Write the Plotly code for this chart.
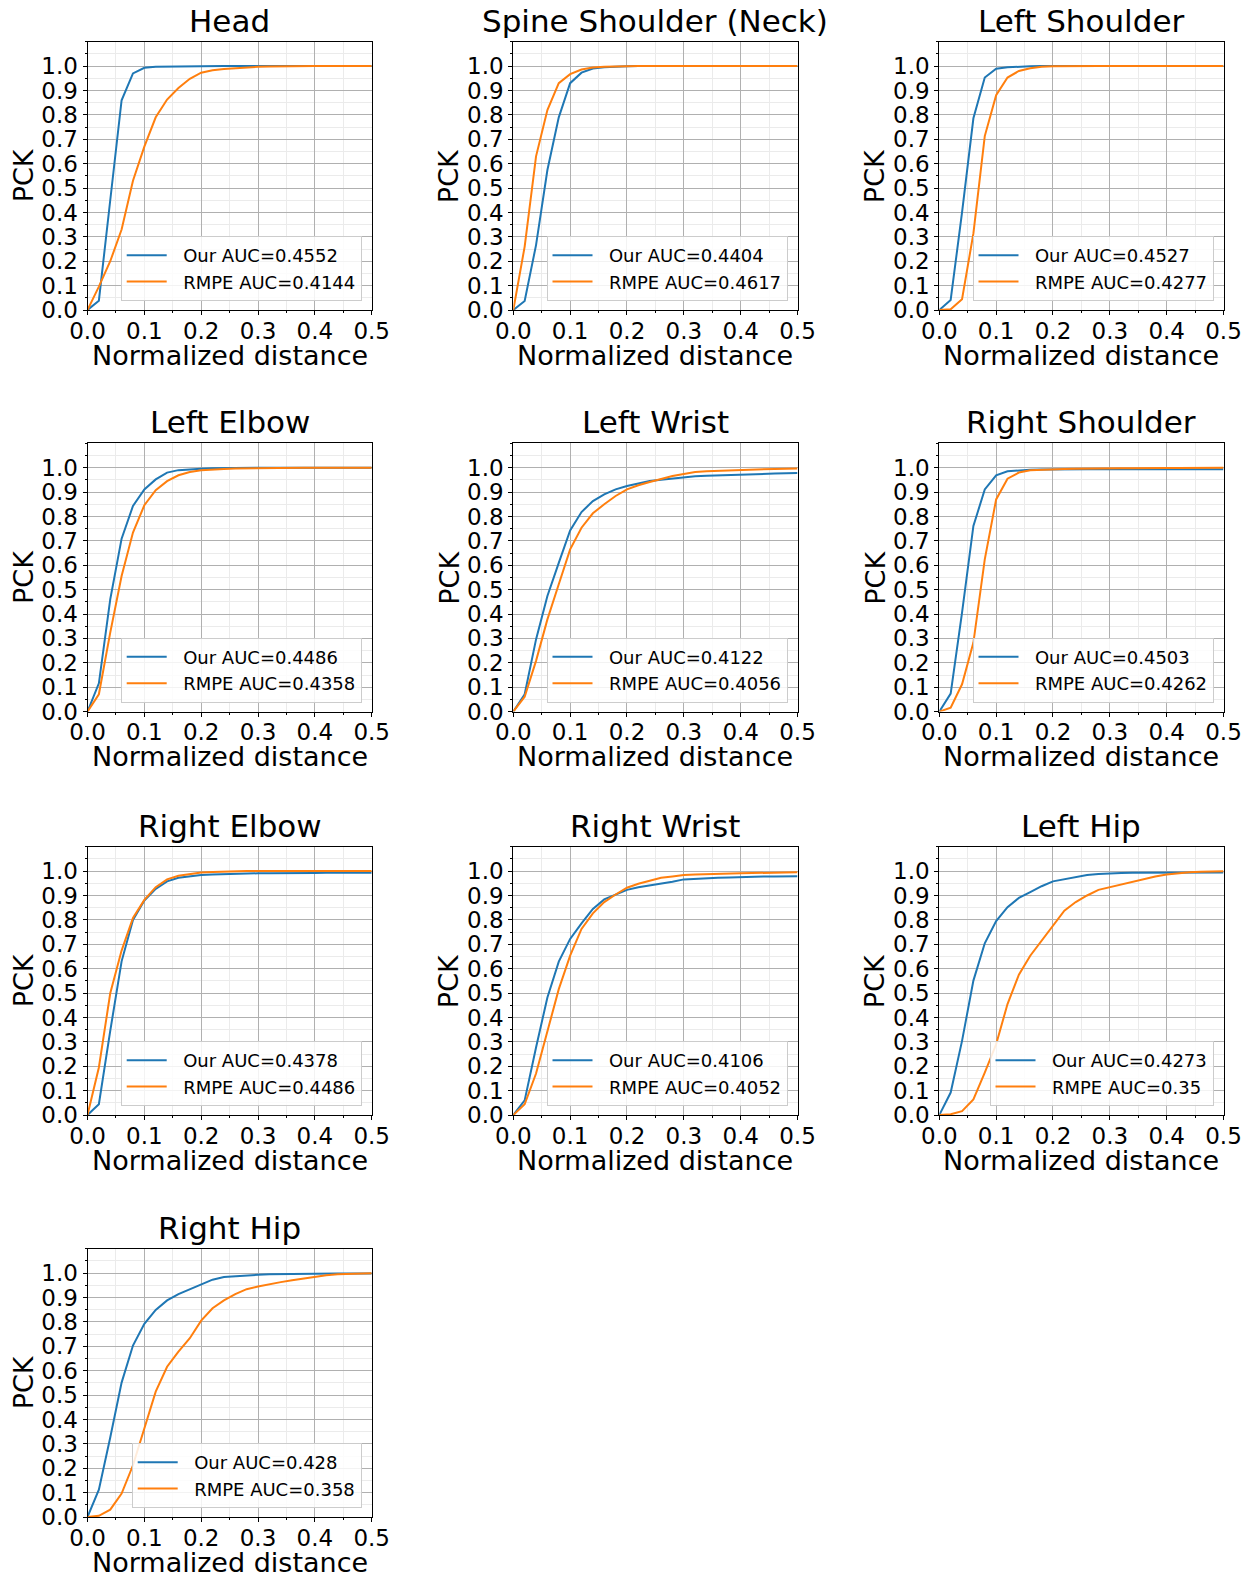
import plotly.graph_objects as go

# ---------------- data ----------------
panel_titles = ["Head", "Spine Shoulder (Neck)", "Left Shoulder", "Left Elbow", "Left Wrist",
                "Right Shoulder", "Right Elbow", "Right Wrist", "Left Hip", "Right Hip"]

distance = [0.0, 0.02, 0.04, 0.06, 0.08, 0.10, 0.12, 0.14, 0.16, 0.18, 0.20, 0.22, 0.24,
            0.26, 0.28, 0.30, 0.32, 0.34, 0.36, 0.38, 0.40, 0.42, 0.44, 0.46, 0.48, 0.50]

our_auc = ["0.4552", "0.4404", "0.4527", "0.4486", "0.4122", "0.4503", "0.4378", "0.4106", "0.4273", "0.428"]
rmpe_auc = ["0.4144", "0.4617", "0.4277", "0.4358", "0.4056", "0.4262", "0.4486", "0.4052", "0.35", "0.358"]

our_head = [0, 0.038, 0.45, 0.86, 0.97, 0.993, 0.997, 0.998, 0.999, 0.999,
            1, 1, 1, 1, 1, 1, 1, 1, 1, 1, 1, 1, 1, 1, 1, 1]
rmpe_head = [0, 0.096, 0.2, 0.33, 0.53, 0.67, 0.79, 0.863, 0.91, 0.948, 0.973, 0.983, 0.988,
             0.992, 0.995, 0.997, 0.998, 0.999, 1, 1, 1, 1, 1, 1, 1, 1]

our_neck = [0, 0.037, 0.266, 0.574, 0.79, 0.93, 0.973, 0.99, 0.995, 0.998, 0.999,
            1, 1, 1, 1, 1, 1, 1, 1, 1, 1, 1, 1, 1, 1, 1]
rmpe_neck = [0, 0.26, 0.63, 0.82, 0.93, 0.967, 0.986, 0.994, 0.997, 0.999,
             1, 1, 1, 1, 1, 1, 1, 1, 1, 1, 1, 1, 1, 1, 1, 1]

our_lshoulder = [0, 0.041, 0.40, 0.786, 0.953, 0.989, 0.995, 0.998, 0.999,
                 1, 1, 1, 1, 1, 1, 1, 1, 1, 1, 1, 1, 1, 1, 1, 1, 1]
rmpe_lshoulder = [0, 0.003, 0.044, 0.314, 0.713, 0.881, 0.953, 0.98, 0.991, 0.997, 0.999,
                  1, 1, 1, 1, 1, 1, 1, 1, 1, 1, 1, 1, 1, 1, 1]

our_lelbow = [0, 0.116, 0.46, 0.709, 0.843, 0.911, 0.952, 0.98, 0.99, 0.994, 0.996, 0.998, 0.999,
              1, 1, 1, 1, 1, 1, 1, 1, 1, 1, 1, 1, 1]
rmpe_lelbow = [0, 0.071, 0.324, 0.556, 0.734, 0.846, 0.908, 0.945, 0.969, 0.982, 0.989, 0.993,
               0.995, 0.997, 0.998, 0.999, 1, 1, 1, 1, 1, 1, 1, 1, 1, 1]

our_lwrist = [0, 0.071, 0.296, 0.474, 0.61, 0.743, 0.818, 0.863, 0.891, 0.911, 0.925, 0.936, 0.945,
              0.951, 0.956, 0.962, 0.965, 0.967, 0.969, 0.971, 0.973, 0.974, 0.975, 0.976, 0.977, 0.978]
rmpe_lwrist = [0, 0.061, 0.208, 0.378, 0.522, 0.665, 0.754, 0.813, 0.85, 0.884, 0.911, 0.928, 0.941,
               0.955, 0.966, 0.974, 0.982, 0.985, 0.987, 0.989, 0.991, 0.993, 0.994, 0.995, 0.996, 0.997]

our_rshoulder = [0, 0.074, 0.406, 0.761, 0.911, 0.969, 0.985, 0.99, 0.992, 0.993, 0.994, 0.994, 0.994,
                 0.994, 0.994, 0.994, 0.994, 0.994, 0.994, 0.994, 0.994, 0.994, 0.994, 0.994, 0.994, 0.994]
rmpe_rshoulder = [0, 0.016, 0.112, 0.283, 0.624, 0.87, 0.955, 0.98, 0.989, 0.992, 0.994, 0.995, 0.996,
                  0.997, 0.997, 0.998, 0.998, 0.998, 0.999, 0.999, 0.999, 0.999, 1, 1, 1, 1]

our_relbow = [0, 0.044, 0.345, 0.63, 0.8, 0.879, 0.927, 0.958, 0.973, 0.98, 0.984, 0.986, 0.988,
              0.989, 0.99, 0.991, 0.991, 0.992, 0.992, 0.992, 0.992, 0.993, 0.993, 0.993, 0.993, 0.993]
rmpe_relbow = [0, 0.195, 0.499, 0.674, 0.808, 0.882, 0.934, 0.966, 0.981, 0.989, 0.994, 0.996, 0.998,
               0.999, 1, 1, 1, 1, 1, 1, 1, 1, 1, 1, 1, 1]

our_rwrist = [0, 0.06, 0.277, 0.482, 0.629, 0.722, 0.786, 0.845, 0.884, 0.904, 0.923, 0.934, 0.941,
              0.948, 0.956, 0.966, 0.969, 0.971, 0.973, 0.974, 0.976, 0.977, 0.978, 0.978, 0.979, 0.979]
rmpe_rwrist = [0, 0.044, 0.17, 0.345, 0.516, 0.653, 0.763, 0.827, 0.873, 0.904, 0.932, 0.948, 0.962,
               0.973, 0.978, 0.984, 0.986, 0.988, 0.989, 0.99, 0.991, 0.992, 0.993, 0.994, 0.995, 0.995]

our_lhip = [0, 0.092, 0.304, 0.551, 0.704, 0.795, 0.852, 0.89, 0.914, 0.938, 0.958, 0.967, 0.978,
            0.984, 0.988, 0.991, 0.992, 0.993, 0.993, 0.993, 0.994, 0.994, 0.994, 0.994, 0.994, 0.994]
rmpe_lhip = [0, 0.003, 0.016, 0.064, 0.174, 0.29, 0.455, 0.575, 0.653, 0.715, 0.781, 0.838, 0.873,
             0.9, 0.923, 0.934, 0.944, 0.958, 0.967, 0.978, 0.986, 0.991, 0.995, 0.997, 0.998, 0.999]

our_rhip = [0, 0.112, 0.326, 0.551, 0.703, 0.792, 0.849, 0.888, 0.914, 0.934, 0.956, 0.973, 0.984,
            0.988, 0.991, 0.993, 0.995, 0.996, 0.996, 0.997, 0.997, 0.997, 0.998, 0.998, 0.998, 0.998]
rmpe_rhip = [0, 0.005, 0.03, 0.096, 0.212, 0.363, 0.514, 0.616, 0.678, 0.733, 0.805, 0.856, 0.888,
             0.914, 0.934, 0.945, 0.955, 0.963, 0.971, 0.978, 0.986, 0.991, 0.995, 0.997, 0.998, 0.999]

our_series = [our_head, our_neck, our_lshoulder, our_lelbow, our_lwrist,
              our_rshoulder, our_relbow, our_rwrist, our_lhip, our_rhip]
rmpe_series = [rmpe_head, rmpe_neck, rmpe_lshoulder, rmpe_lelbow, rmpe_lwrist,
               rmpe_rshoulder, rmpe_relbow, rmpe_rwrist, rmpe_lhip, rmpe_rhip]

x_tick_vals = [0.0, 0.1, 0.2, 0.3, 0.4, 0.5]
x_tick_text = ["0.0", "0.1", "0.2", "0.3", "0.4", "0.5"]
y_tick_vals = [0.0, 0.1, 0.2, 0.3, 0.4, 0.5, 0.6, 0.7, 0.8, 0.9, 1.0]
y_tick_text = ["0.0", "0.1", "0.2", "0.3", "0.4", "0.5", "0.6", "0.7", "0.8", "0.9", "1.0"]

# ---------------- layout geometry (pixels) ----------------
W, H = 1250, 1576
col_left = [87.5, 513.3, 939.3]
plot_w = 284.2
row_top = [41.7, 443.3, 846.7, 1248.7]
plot_h = 268.3

FONT = "DejaVu Sans"
BLUE = "#1f77b4"
ORANGE = "#ff7f0e"
PAD = "\u00a0\u00a0"

fig = go.Figure()
layout = dict(
    template="none",
    width=W, height=H, margin=dict(l=0, r=0, t=0, b=0, pad=0, autoexpand=False),
    paper_bgcolor="white", plot_bgcolor="white",
    font=dict(family=FONT, color="black"),
    showlegend=True,
)
annotations = []


def axis_style(tick_vals, tick_text, rng, dom, anchor, standoff):
    return dict(
        domain=dom, anchor=anchor, range=rng, automargin=False,
        tickmode="array", tickvals=tick_vals, ticktext=tick_text,
        tickfont=dict(size=23, family=FONT, color="black"),
        ticks="outside", ticklen=4, tickwidth=1, tickcolor="black",
        ticklabelstandoff=standoff,
        showgrid=True, gridcolor="#b0b0b0", gridwidth=1,
        minor=dict(tickmode="linear", tick0=0, dtick=0.05, showgrid=True,
                   gridcolor="#ebebeb", gridwidth=1, ticks="outside", ticklen=2,
                   tickcolor="black"),
        showline=True, linecolor="black", linewidth=1, mirror=True,
        zeroline=False, fixedrange=True,
    )


for i in range(len(panel_titles)):
    r, c = divmod(i, 3)
    L = col_left[c]
    R = L + plot_w
    T = row_top[r]
    B = T + plot_h
    n = "" if i == 0 else str(i + 1)
    xa, ya = "x" + n, "y" + n
    leg = "legend" + n

    fig.add_trace(go.Scatter(x=distance, y=our_series[i], mode="lines",
                             line=dict(color=BLUE, width=2),
                             name=PAD + "Our AUC=" + our_auc[i],
                             xaxis=xa, yaxis=ya, legend=leg))
    fig.add_trace(go.Scatter(x=distance, y=rmpe_series[i], mode="lines",
                             line=dict(color=ORANGE, width=2),
                             name=PAD + "RMPE AUC=" + rmpe_auc[i],
                             xaxis=xa, yaxis=ya, legend=leg))

    layout["xaxis" + n] = axis_style(x_tick_vals, x_tick_text, [0, 0.5], [L / W, R / W], ya, -4)
    layout["yaxis" + n] = axis_style(y_tick_vals, y_tick_text, [0, 1.1], [1 - B / H, 1 - T / H], xa, 0)
    layout[leg] = dict(
        x=(R - 10) / W, xanchor="right", y=1 - (B - 9) / H, yanchor="bottom",
        bgcolor="rgba(255,255,255,0.85)", bordercolor="#cccccc", borderwidth=1,
        font=dict(size=18, family=FONT, color="black"), tracegroupgap=0,
        itemwidth=40,
    )
    annotations.append(dict(text=panel_titles[i], x=(L + R) / 2 / W, y=1 - T / H,
                            xref="paper", yref="paper", xanchor="center", yanchor="bottom",
                            yshift=1,
                            showarrow=False, font=dict(size=31, family=FONT, color="black")))
    annotations.append(dict(text="Normalized distance", x=(L + R) / 2 / W, y=1 - (B + 45) / H,
                            xref="paper", yref="paper", xanchor="center", yanchor="middle",
                            showarrow=False, font=dict(size=27, family=FONT, color="black")))
    annotations.append(dict(text="PCK", x=(L - 64) / W, y=1 - (T + B) / 2 / H,
                            xref="paper", yref="paper", xanchor="center", yanchor="middle",
                            textangle=-90, showarrow=False,
                            font=dict(size=27, family=FONT, color="black")))

layout["annotations"] = annotations
fig.update_layout(**layout)
fig.write_html("out.html")
